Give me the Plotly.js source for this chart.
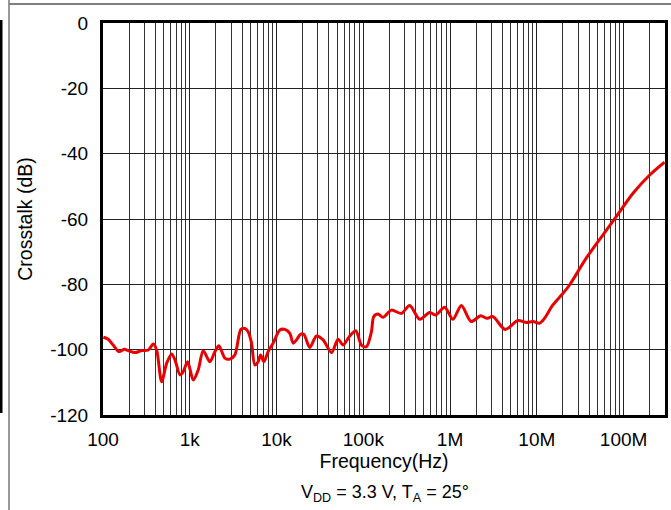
<!DOCTYPE html>
<html>
<head>
<meta charset="utf-8">
<script src="https://cdn.plot.ly/plotly-3.0.1.min.js"></script>
<style>html,body{margin:0;padding:0;background:#fff;}#chart{width:671px;height:510px;}</style>
</head>
<body>
<div id="chart"></div>
<script>
// Frequency (Hz) and crosstalk (dB)
const freqHz = [101, 115, 131, 153, 176, 195, 233, 279, 332, 380, 415, 474, 541, 618, 675, 771, 841, 945,
  1096, 1251, 1429, 1707, 1950, 2167, 2541, 2899, 3311, 3882, 4316, 4710, 5152, 5623, 6138, 6543, 7141, 8000, 9140,
  10920, 12470, 14230, 15530, 16990, 18880, 20610, 24170, 28890, 34430, 42990, 51170, 58460, 69830, 81840, 95230,
  108700, 124100, 131900, 147900, 168800, 210800, 274800, 342600, 446700, 582100, 682300, 866400,
  1.08e6, 1.349e6, 1.75e6, 2.25e6, 2.64e6, 3.12e6, 4.31e6, 6.05e6, 7.57e6, 9.02e6,
  1.077e7, 1.228e7, 1.531e7, 1.995e7, 2.383e7, 3.71e7, 5.76e7, 8.22e7, 1.277e8, 1.987e8, 2.96e8];
const crosstalkDb = [-96.2, -96.8, -98.6, -100.6, -99.9, -100.3, -100.9, -100.3, -100.1, -98.3, -100.1, -109.8, -104.2, -101.3, -103.1, -107.7, -106.7, -103.7,
  -109.3, -106.2, -100.3, -103.7, -100.6, -98.8, -102.6, -102.9, -101.6, -93.8, -93.5, -94.5, -98.0, -104.7, -103.7, -101.6, -103.7, -100.6, -98.0,
  -94.0, -93.8, -95.0, -98.0, -97.0, -95.3, -95.3, -99.3, -95.8, -97.0, -100.9, -96.8, -98.6, -95.8, -94.2, -98.6,
  -99.1, -94.5, -89.9, -89.1, -90.1, -87.9, -88.9, -86.5, -90.7, -88.6, -89.4, -87.0,
  -90.7, -86.5, -91.4, -89.6, -90.4, -89.9, -93.8, -91.1, -91.7, -91.4,
  -91.9, -90.4, -86.3, -82.8, -80.2, -72.0, -64.9, -59.3, -52.2, -46.6, -42.6];

// Axis ticks
const decadeValues = [100, 1e3, 1e4, 1e5, 1e6, 1e7, 1e8];
const decadeLabels = ['100', '1k', '10k', '100k', '1M', '10M', '100M'];
const yTickValues = [0, -20, -40, -60, -80, -100, -120];
const xMax = 3e8;

// minor gridlines at every 2..9 multiple of each decade
const minorVals = [];
decadeValues.forEach(d => {
  for (let m = 2; m <= 9; m++) {
    const v = d * m;
    if (v > xMax * 1.0001) break;
    minorVals.push(v);
  }
});

const W = 671, H = 510;
const M = {l: 103, r: 6, t: 23, b: 95};
const pw = W - M.l - M.r, ph = H - M.t - M.b;
const px = x => (x - M.l) / pw;
const py = y => 1 - (y - M.t) / ph;

const fam = 'Liberation Sans, Arial, sans-serif';
const tickFont = {family: fam, size: 19, color: '#000'};
const titleFont = {family: fam, size: 19.5, color: '#000'};

const trace = {
  x: freqHz, y: crosstalkDb, type: 'scatter', mode: 'lines',
  line: {color: '#e60000', width: 3, shape: 'spline', smoothing: 0.8},
  hoverinfo: 'x+y'
};

const layout = {
  width: W, height: H,
  margin: M,
  paper_bgcolor: '#fff', plot_bgcolor: '#fff',
  showlegend: false,
  font: tickFont,
  xaxis: {
    type: 'log', range: [2, Math.log10(xMax)], autorange: false,
    tickmode: 'array', tickvals: decadeValues, ticktext: decadeLabels,
    showgrid: true, gridcolor: '#222', gridwidth: 1,
    minor: {tickmode: 'array', tickvals: minorVals, showgrid: true, gridcolor: '#333', gridwidth: 1, ticks: ''},
    showline: true, linecolor: '#000', linewidth: 3, mirror: true,
    ticks: '', ticklabelstandoff: 5, tickfont: tickFont,
    zeroline: false,
    title: {text: 'Frequency(Hz)', font: titleFont, standoff: 5}
  },
  yaxis: {
    range: [-120, 0], autorange: false,
    tickmode: 'array', tickvals: yTickValues, ticktext: yTickValues.map(String),
    showgrid: true, gridcolor: '#222', gridwidth: 1,
    showline: true, linecolor: '#000', linewidth: 3, mirror: true,
    ticks: '', ticklabelstandoff: 8, tickfont: tickFont,
    zeroline: false,
    title: {text: 'Crosstalk (dB)', font: titleFont, standoff: 13}
  },
  annotations: [{
    xref: 'paper', yref: 'paper', x: px(385), y: py(494), xanchor: 'center', yanchor: 'middle',
    text: 'V<sub>DD</sub> = 3.3 V, T<sub>A</sub> = 25°', showarrow: false,
    font: {family: fam, size: 18, color: '#000'}
  }],
  shapes: [
    {type: 'line', xref: 'paper', yref: 'paper', x0: px(9), x1: px(671), y0: py(4), y1: py(4), line: {color: '#555', width: 1.5}},
    {type: 'line', xref: 'paper', yref: 'paper', x0: px(9), x1: px(9), y0: py(0), y1: py(510), line: {color: '#777', width: 1.5}},
    {type: 'line', xref: 'paper', yref: 'paper', x0: px(1), x1: px(1), y0: py(20), y1: py(413), line: {color: '#000', width: 3}}
  ]
};

Plotly.newPlot('chart', [trace], layout, {displayModeBar: false, staticPlot: true});
</script>
</body>
</html>
